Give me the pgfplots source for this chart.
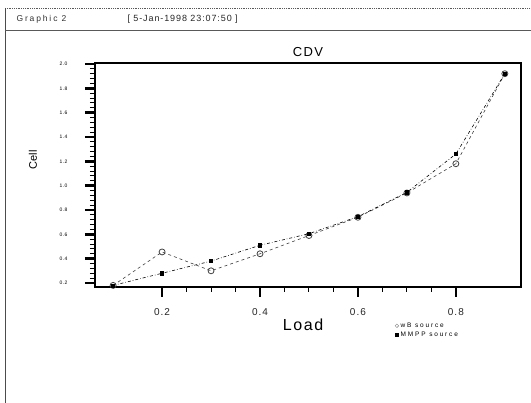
\documentclass[border=0pt]{standalone}
\usepackage{pgfplots}
\pgfplotsset{compat=1.18}
\usepackage{fontspec}
\setmainfont{Liberation Sans}
\newfontfamily\spaced[LetterSpace=22]{Liberation Sans}
\newfontfamily\wide[LetterSpace=10]{Liberation Sans}
\newfontfamily\legfont[LetterSpace=28]{Liberation Sans}
\begin{document}
\begin{tikzpicture}[x=1pt,y=1pt]
\useasboundingbox (0,0) rectangle (531,403);
\fill[white] (0,0) rectangle (531,403);
% frame lines
\draw[gray!70!black, line width=0.8pt, densely dotted] (5,395) -- (531,395);
\draw[gray!60!black, line width=0.9pt] (5,395) -- (5,0);
\draw[gray!70!black, line width=0.8pt] (5,373) -- (531,373);
\node[anchor=west, font=\spaced\fontsize{8.5}{9}\selectfont, gray!40!black] at (13,384) {Graphic 2};
\node[anchor=west, font=\wide\fontsize{9}{10}\selectfont, gray!30!black] at (124,384) {[ 5-Jan-1998 23:07:50 ]};
\node[font=\wide\fontsize{13}{14}\selectfont] at (308,351) {CDV};
\node[rotate=90, font=\fontsize{11}{12}\selectfont] at (33,243) {Cell};
\node[font=\wide\fontsize{16}{17}\selectfont] at (303,78) {Load};
\begin{axis}[
  at={(95pt,116pt)}, anchor=south west,
  scale only axis, width=426pt, height=224pt,
  xmin=0.063, xmax=0.933, ymin=0.167, ymax=2.008,
  axis line style={line width=1.2pt},
  xtick={0.2,0.4,0.6,0.8},
  xticklabels={0.2,0.4,0.6,0.8},
  minor x tick num=3,
  ytick={0.2,0.4,0.6,0.8,1.0,1.2,1.4,1.6,1.8,2.0},
  yticklabels={0.2,0.4,0.6,0.8,1.0,1.2,1.4,1.6,1.8,2.0},
  minor y tick num=4,
  xtick pos=bottom, ytick pos=left,
  tick align=outside,
  major tick length=10pt, minor tick length=5pt,
  every major tick/.style={line width=2.5pt, black},
  every minor tick/.style={line width=1pt, black},
  xticklabel style={font=\wide\fontsize{10}{11}\selectfont, yshift=-8pt, gray!30!black},
  yticklabel style={font=\wide\fontsize{5}{6}\selectfont, xshift=-14pt},
  /pgf/number format/assume math mode=true,
  legend style={at={(0.704,-0.150)}, anchor=north west, draw=none, fill=none,
    font=\legfont\fontsize{6.5}{7}\selectfont, row sep=-1pt, inner sep=0pt},
  legend cell align=left,
  clip=false,
]
\addplot[gray!50!black, line width=0.6pt, dashed, mark=o, mark size=3pt,
  mark options={solid, line width=0.8pt}, forget plot] coordinates {
(0.1,0.18)(0.2,0.455)(0.3,0.30)(0.4,0.44)(0.5,0.59)(0.6,0.74)(0.7,0.94)(0.8,1.18)(0.9,1.92)};
\addplot[black, line width=0.6pt, dash dot, mark=square*, mark size=1.6pt,
  mark options={solid}, forget plot] coordinates {
(0.1,0.18)(0.2,0.28)(0.3,0.38)(0.4,0.51)(0.5,0.605)(0.6,0.745)(0.7,0.945)(0.8,1.26)(0.9,1.92)};
\addlegendimage{only marks, mark=o, mark size=1.8pt, gray}
\addlegendentry{wB source}
\addlegendimage{only marks, mark=square*, mark size=1.4pt, black}
\addlegendentry{MMPP source}
\end{axis}
\end{tikzpicture}
\end{document}
